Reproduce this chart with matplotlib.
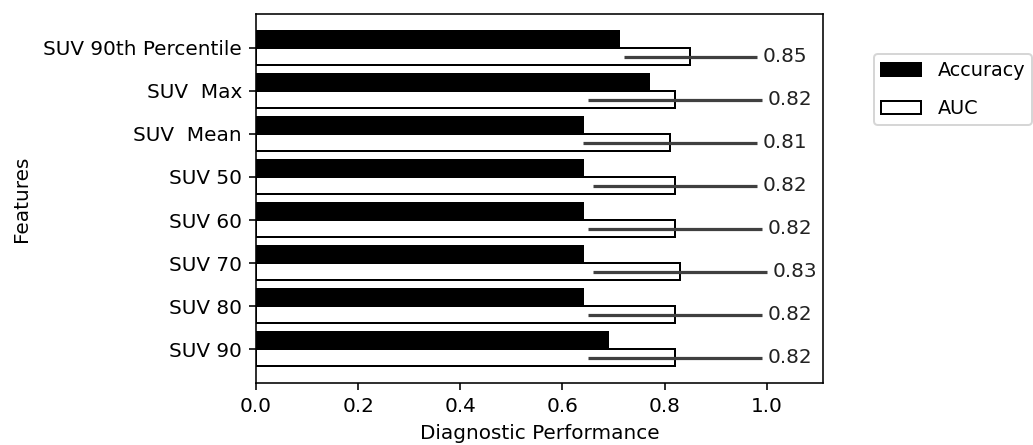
import numpy as np
import matplotlib
matplotlib.use('Agg')
import matplotlib.pyplot as plt

features = ['SUV 90th Percentile', 'SUV  Max', 'SUV  Mean', 'SUV 50',
            'SUV 60', 'SUV 70', 'SUV 80', 'SUV 90']
accuracy = [0.71, 0.77, 0.64, 0.64, 0.64, 0.64, 0.64, 0.69]
auc = [0.85, 0.82, 0.81, 0.82, 0.82, 0.83, 0.82, 0.82]
auc_low = [0.72, 0.65, 0.64, 0.66, 0.65, 0.66, 0.65, 0.65]
auc_high = [0.98, 0.99, 0.98, 0.98, 0.99, 1.00, 0.99, 0.99]

plt.rcParams['font.family'] = 'DejaVu Sans'
plt.rcParams['font.size'] = 10

fig = plt.figure(figsize=(1033 / 144, 445 / 144), dpi=144)
ax = fig.add_axes([256 / 1033, 62 / 445, 567 / 1033, 369 / 445])

h = 0.4
y = np.arange(len(features))
auc = np.array(auc)
xerr = [auc - np.array(auc_low), np.array(auc_high) - auc]

ax.barh(y - h / 2, accuracy, h, color='black', edgecolor='black', label='Accuracy')
ax.barh(y + h / 2, auc, h, color='white', edgecolor='black', linewidth=1.0,
        xerr=xerr, error_kw=dict(ecolor='#404040', elinewidth=1.6, capsize=0),
        label='AUC')

# value labels after the error bars
for i in range(len(features)):
    ax.text(auc_high[i] + 0.012, y[i] + h / 2, '%.2f' % auc[i],
            va='center', ha='left', fontsize=10, color='#222222')

ax.set_yticks(y)
ax.set_yticklabels(features)
ax.invert_yaxis()
ax.set_xlim(0, 1.11)
ax.set_xticks([0.0, 0.2, 0.4, 0.6, 0.8, 1.0])
ax.set_xlabel('Diagnostic Performance')
ax.set_ylabel('Features', labelpad=6)

ax.legend(loc='upper left', bbox_to_anchor=(1.09, 0.891), borderaxespad=0,
          fontsize=9.6, labelspacing=1.0, handletextpad=0.85,
          handlelength=2.1, borderpad=0.35)

plt.savefig('out.png', dpi=144)
